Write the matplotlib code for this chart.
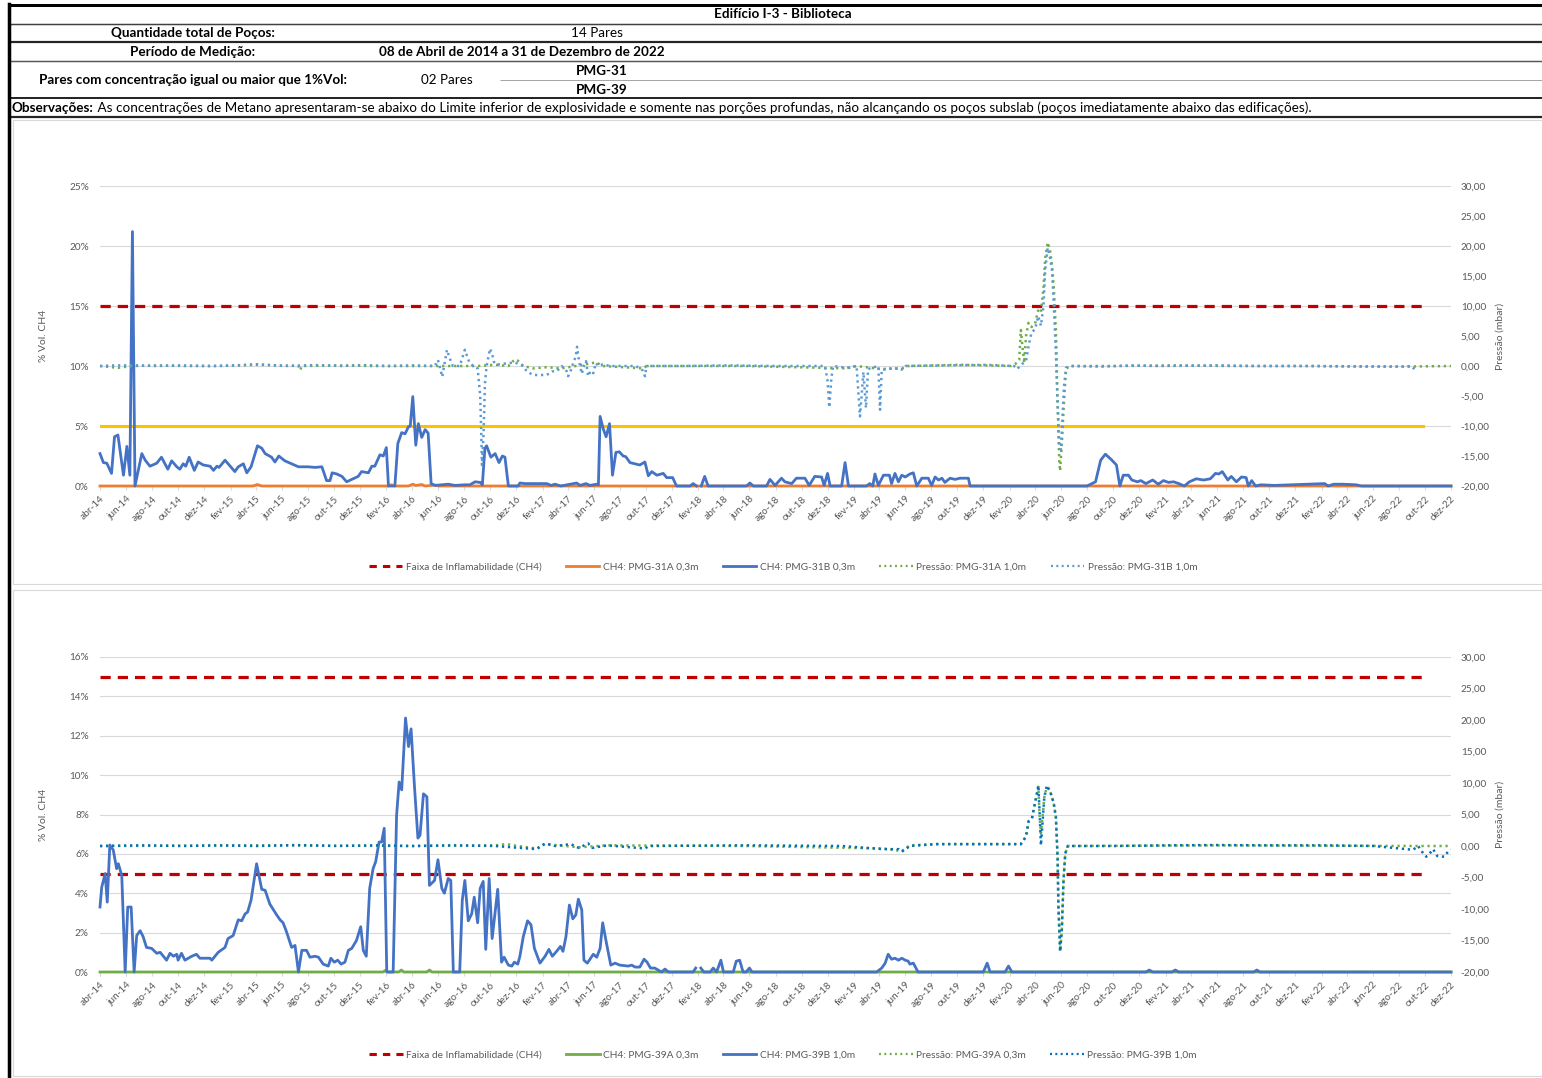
import numpy as np
import pandas as pd
import matplotlib
matplotlib.use('Agg')
import matplotlib.pyplot as plt
from matplotlib.lines import Line2D
from matplotlib.patches import Rectangle
from matplotlib.ticker import FuncFormatter

nan = float('nan')

# ---------------- header texts ----------------
titulo = 'Edifício I-3 - Biblioteca'
rotulo_qtd = 'Quantidade total de Poços:'
valor_qtd = '14 Pares'
rotulo_periodo = 'Período de Medição:'
valor_periodo = '08 de Abril de 2014 a 31 de Dezembro de 2022'
rotulo_pares = 'Pares com concentração igual ou maior que 1%Vol:'
valor_pares = '02 Pares'
pocos = ['PMG-31', 'PMG-39']
obs_rotulo = 'Observações:'
obs_texto = (' As concentrações de Metano apresentaram-se abaixo do Limite inferior de explosividade '
             'e somente nas porções profundas, não alcançando os poços subslab (poços imediatamente '
             'abaixo das edificações).')

meses = ['jan', 'fev', 'mar', 'abr', 'mai', 'jun', 'jul', 'ago', 'set', 'out', 'nov', 'dez']
inicio = '2014-04-08'
fim = '2022-12-08'

# ---------------- chart 1 : PMG-31 ----------------
leg_31 = ['Faixa de Inflamabilidade (CH4)', 'CH4: PMG-31A 0,3m', 'CH4: PMG-31B 0,3m',
          'Pressão: PMG-31A 1,0m', 'Pressão: PMG-31B 1,0m']
faixa_datas = ['2014-04-08', '2022-10-03']
faixa_31 = [15.0]
amarela_31 = [5.0]

ch4_31a = [('2014-04-08', 0.0), ('2015-04-01', 0.0), ('2015-04-12', 0.12), ('2015-04-22', 0.0),
           ('2016-02-13', 0.0), ('2016-02-20', 0.1), ('2016-02-28', 0.0), ('2016-03-31', 0.0),
           ('2016-04-10', 0.15), ('2016-04-17', 0.05), ('2016-05-01', 0.12), ('2016-05-09', 0.0),
           ('2016-06-01', 0.08), ('2016-06-10', 0.0), ('2022-12-08', 0.0)]

ch4_31b = [('2014-04-08', 2.7), ('2014-04-16', 1.95), ('2014-04-24', 1.9), ('2014-05-05', 1.05),
           ('2014-05-12', 4.1), ('2014-05-20', 4.25), ('2014-06-02', 0.9), ('2014-06-10', 3.3),
           ('2014-06-17', 0.9), ('2014-06-23', 21.2), ('2014-06-29', 0.0), ('2014-07-15', 2.7),
           ('2014-07-23', 2.15), ('2014-08-03', 1.65), ('2014-08-19', 1.9), ('2014-08-30', 2.4),
           ('2014-09-14', 1.4), ('2014-09-23', 2.1), ('2014-10-05', 1.6), ('2014-10-12', 1.4),
           ('2014-10-20', 1.85), ('2014-10-26', 1.65), ('2014-11-03', 2.4), ('2014-11-15', 1.3),
           ('2014-11-24', 2.0), ('2014-12-06', 1.75), ('2014-12-22', 1.65), ('2014-12-30', 1.3),
           ('2015-01-07', 1.65), ('2015-01-12', 1.55), ('2015-01-26', 2.15), ('2015-02-18', 1.2),
           ('2015-02-26', 1.6), ('2015-03-10', 1.85), ('2015-03-18', 1.1), ('2015-03-28', 1.6),
           ('2015-04-12', 3.35), ('2015-04-22', 3.15), ('2015-04-30', 2.7), ('2015-05-15', 2.4),
           ('2015-05-23', 2.0), ('2015-06-01', 2.5), ('2015-06-15', 2.1), ('2015-07-01', 1.85),
           ('2015-07-17', 1.6), ('2015-08-09', 1.6), ('2015-08-25', 1.55), ('2015-09-10', 1.6),
           ('2015-09-21', 0.45), ('2015-09-29', 0.45), ('2015-10-04', 1.1), ('2015-10-15', 1.0),
           ('2015-10-27', 0.8), ('2015-11-07', 0.35), ('2015-11-19', 0.55), ('2015-12-04', 0.8),
           ('2015-12-12', 1.2), ('2015-12-28', 1.1), ('2016-01-05', 1.65), ('2016-01-12', 1.65),
           ('2016-01-24', 2.6), ('2016-02-01', 2.5), ('2016-02-08', 3.2), ('2016-02-13', 0.0),
           ('2016-02-28', 0.0), ('2016-03-06', 3.55), ('2016-03-15', 4.45), ('2016-03-23', 4.35),
           ('2016-03-31', 4.95), ('2016-04-04', 5.0), ('2016-04-10', 7.45), ('2016-04-17', 3.4),
           ('2016-04-23', 5.2), ('2016-05-01', 4.05), ('2016-05-09', 4.7), ('2016-05-16', 4.4),
           ('2016-05-23', 0.2), ('2016-06-01', 0.05), ('2016-07-02', 0.15), ('2016-07-18', 0.05),
           ('2016-08-10', 0.1), ('2016-08-22', 0.1), ('2016-09-03', 0.35), ('2016-09-15', 0.3),
           ('2016-09-20', 0.1), ('2016-09-26', 3.15), ('2016-09-30', 3.35), ('2016-10-10', 2.4),
           ('2016-10-20', 2.7), ('2016-10-29', 1.95), ('2016-11-06', 2.5), ('2016-11-12', 2.4),
           ('2016-11-20', 0.0), ('2016-12-13', 0.0), ('2016-12-17', 0.25), ('2016-12-29', 0.2),
           ('2017-01-14', 0.2), ('2017-02-02', 0.2), ('2017-02-18', 0.2), ('2017-02-28', 0.05),
           ('2017-03-09', 0.15), ('2017-03-23', 0.0), ('2017-04-29', 0.25), ('2017-05-07', 0.05),
           ('2017-05-21', 0.2), ('2017-05-30', 0.05), ('2017-06-15', 0.15), ('2017-06-19', 0.1),
           ('2017-06-23', 5.8), ('2017-06-30', 4.8), ('2017-07-07', 4.1), ('2017-07-15', 5.2),
           ('2017-07-22', 0.9), ('2017-07-30', 2.8), ('2017-08-07', 2.85), ('2017-08-16', 2.5),
           ('2017-08-22', 2.45), ('2017-09-01', 1.95), ('2017-09-13', 1.85), ('2017-09-24', 1.75),
           ('2017-10-06', 2.0), ('2017-10-14', 0.85), ('2017-10-22', 1.2), ('2017-11-03', 0.9),
           ('2017-11-18', 1.05), ('2017-11-26', 0.7), ('2017-12-10', 0.7), ('2017-12-19', 0.0),
           ('2018-01-20', 0.0), ('2018-01-27', 0.2), ('2018-02-04', 0.0), ('2018-02-10', nan),
           ('2018-02-15', 0.0), ('2018-02-23', 0.8), ('2018-03-03', 0.0), ('2018-06-01', 0.0),
           ('2018-06-09', 0.25), ('2018-06-17', 0.0), ('2018-07-18', 0.0), ('2018-07-26', 0.55),
           ('2018-08-07', 0.05), ('2018-08-22', 0.65), ('2018-08-30', 0.35), ('2018-09-15', 0.2),
           ('2018-09-26', 0.65), ('2018-10-16', 0.65), ('2018-10-26', 0.05), ('2018-11-08', 0.8),
           ('2018-11-24', 0.75), ('2018-11-30', 0.05), ('2018-12-08', 1.05), ('2018-12-14', 0.0),
           ('2019-01-10', 0.0), ('2019-01-18', 1.95), ('2019-01-26', 0.0), ('2019-03-09', 0.0),
           ('2019-03-17', 0.2), ('2019-03-24', 0.0), ('2019-03-29', 1.0), ('2019-04-06', 0.05),
           ('2019-04-18', 0.9), ('2019-05-02', 0.9), ('2019-05-07', 0.2), ('2019-05-15', 1.05),
           ('2019-05-23', 0.35), ('2019-05-31', 0.9), ('2019-06-08', 0.75), ('2019-06-19', 1.0),
           ('2019-06-27', 1.1), ('2019-07-05', 0.0), ('2019-07-17', 0.65), ('2019-08-01', 0.65),
           ('2019-08-09', 0.05), ('2019-08-17', 0.75), ('2019-08-25', 0.5), ('2019-09-02', 0.65),
           ('2019-09-09', 0.3), ('2019-09-21', 0.65), ('2019-10-03', 0.55), ('2019-10-14', 0.65),
           ('2019-10-26', 0.65), ('2019-11-03', 0.65), ('2019-11-07', 0.0), ('2020-08-07', 0.0),
           ('2020-08-27', 0.35), ('2020-09-08', 2.15), ('2020-09-19', 2.65), ('2020-10-03', 2.2),
           ('2020-10-15', 1.75), ('2020-10-23', 0.0), ('2020-10-31', 0.9), ('2020-11-12', 0.9),
           ('2020-11-20', 0.5), ('2020-12-03', 0.35), ('2020-12-11', 0.45), ('2020-12-23', 0.2),
           ('2021-01-08', 0.5), ('2021-01-21', 0.15), ('2021-02-02', 0.45), ('2021-02-14', 0.3),
           ('2021-02-26', 0.35), ('2021-03-10', 0.2), ('2021-03-23', 0.0), ('2021-04-04', 0.35),
           ('2021-04-20', 0.6), ('2021-05-07', 0.5), ('2021-05-23', 0.6), ('2021-06-04', 1.05),
           ('2021-06-12', 1.0), ('2021-06-20', 1.2), ('2021-07-03', 0.5), ('2021-07-11', 0.8),
           ('2021-07-23', 0.35), ('2021-08-04', 0.75), ('2021-08-15', 0.7), ('2021-08-20', 0.0),
           ('2021-08-28', 0.45), ('2021-09-06', 0.0), ('2021-09-18', 0.1), ('2021-10-20', 0.05),
           ('2022-02-15', 0.2), ('2022-02-23', 0.0), ('2022-03-08', 0.15), ('2022-03-28', 0.15),
           ('2022-04-30', 0.1), ('2022-05-12', 0.0), ('2022-12-08', 0.0)]

press_31a = [('2014-04-08', 0.0), ('2014-05-20', -0.3), ('2014-06-23', 0.0), ('2014-08-19', 0.1),
             ('2014-10-20', 0.0), ('2015-01-12', 0.0), ('2015-04-12', 0.2), ('2015-07-17', 0.0),
             ('2015-07-21', -0.7), ('2015-07-25', 0.0), ('2015-10-15', 0.1), ('2016-01-12', 0.0),
             ('2016-04-10', 0.0), ('2016-07-13', 0.0), ('2016-09-09', 0.0), ('2016-10-20', 0.2),
             ('2016-11-20', 0.0), ('2016-12-05', 1.1), ('2016-12-12', 0.9), ('2016-12-25', 0.0),
             ('2017-01-17', -0.4), ('2017-02-18', -0.2), ('2017-03-25', -0.4), ('2017-04-27', 0.0),
             ('2017-06-13', 0.6), ('2017-06-30', 0.0), ('2017-10-02', -0.4), ('2017-10-10', 0.0),
             ('2018-06-01', 0.0), ('2019-01-22', -0.4), ('2019-02-14', 0.0), ('2019-04-10', -0.5),
             ('2019-05-31', -0.4), ('2019-06-15', 0.0), ('2019-10-15', 0.2), ('2020-02-10', 0.0),
             ('2020-02-22', 0.4), ('2020-03-01', 1.0), ('2020-03-05', 6.0), ('2020-03-09', 3.0),
             ('2020-03-13', 0.5), ('2020-03-17', 5.0), ('2020-03-23', 7.2), ('2020-03-30', 6.5),
             ('2020-04-07', 7.0), ('2020-04-15', 9.4), ('2020-04-21', 9.0), ('2020-04-27', 13.0),
             ('2020-05-01', 18.0), ('2020-05-07', 20.6), ('2020-05-13', 19.0), ('2020-05-17', 16.7),
             ('2020-05-21', 13.3), ('2020-05-26', 6.0), ('2020-05-30', -6.0), ('2020-06-03', -16.0),
             ('2020-06-05', -17.5), ('2020-06-10', -11.7), ('2020-06-14', -6.0), ('2020-06-19', -0.5),
             ('2020-06-27', 0.0), ('2020-10-10', 0.0), ('2021-03-10', 0.1), ('2021-07-10', 0.0),
             ('2022-01-10', 0.0), ('2022-08-20', -0.1), ('2022-12-08', 0.0)]

press_31b = [('2014-04-08', 0.0), ('2014-05-12', 0.1), ('2014-06-23', 0.1), ('2014-08-19', 0.0),
             ('2014-10-12', 0.1), ('2014-12-22', 0.0), ('2015-02-18', 0.1), ('2015-04-12', 0.3),
             ('2015-06-15', 0.0), ('2015-08-25', 0.15), ('2015-10-27', 0.0), ('2015-12-12', 0.15),
             ('2016-02-13', 0.0), ('2016-04-10', 0.1), ('2016-06-01', 0.0), ('2016-06-08', 1.0),
             ('2016-06-18', -1.8), ('2016-06-29', 2.7), ('2016-07-06', 1.2), ('2016-07-13', 0.0),
             ('2016-07-29', 0.0), ('2016-08-10', 2.7), ('2016-08-20', 0.7), ('2016-08-29', 0.0),
             ('2016-09-09', -0.4), ('2016-09-15', -5.0), ('2016-09-17', -10.0), ('2016-09-19', -16.5),
             ('2016-09-23', -11.0), ('2016-09-26', -3.0), ('2016-09-30', 0.0), ('2016-10-08', 2.9),
             ('2016-10-13', 2.0), ('2016-10-17', 0.7), ('2016-10-24', 0.2), ('2016-10-31', 0.3),
             ('2016-12-05', 0.6), ('2016-12-25', 0.0), ('2017-01-02', -0.9), ('2017-01-17', -1.5),
             ('2017-02-18', -1.5), ('2017-03-02', -0.9), ('2017-03-13', -0.9), ('2017-03-25', 0.0),
             ('2017-04-06', -0.9), ('2017-04-09', -1.7), ('2017-04-15', -0.8), ('2017-04-21', 0.5),
             ('2017-04-27', 1.6), ('2017-04-30', 3.2), ('2017-05-03', 1.6), ('2017-05-07', 0.0),
             ('2017-05-11', -1.3), ('2017-05-16', 0.0), ('2017-05-21', 0.8), ('2017-05-26', -1.7),
             ('2017-06-01', -0.8), ('2017-06-07', -1.2), ('2017-06-13', 0.5), ('2017-06-19', 0.0),
             ('2017-06-30', 0.3), ('2017-07-16', 0.0), ('2017-09-15', 0.0), ('2017-10-02', -0.8),
             ('2017-10-06', -1.7), ('2017-10-10', 0.0), ('2018-01-10', 0.0), ('2018-04-15', 0.1),
             ('2018-08-10', 0.0), ('2018-12-02', 0.0), ('2018-12-08', -2.5), ('2018-12-12', -6.9),
             ('2018-12-17', -2.0), ('2018-12-21', 0.0), ('2019-01-22', -0.3), ('2019-02-14', 0.0),
             ('2019-02-22', -8.4), ('2019-03-02', -1.0), ('2019-03-08', -7.0), ('2019-03-13', -0.5),
             ('2019-04-06', 0.0), ('2019-04-10', -7.3), ('2019-04-14', -0.6), ('2019-04-25', -0.6),
             ('2019-05-10', -0.3), ('2019-05-31', -0.6), ('2019-06-08', 0.0), ('2019-09-15', 0.1),
             ('2019-12-15', 0.2), ('2020-02-18', 0.0), ('2020-02-26', -0.5), ('2020-03-05', 0.2),
             ('2020-03-17', 0.8), ('2020-03-23', 3.3), ('2020-03-30', 5.6), ('2020-04-07', 6.1),
             ('2020-04-15', 8.3), ('2020-04-21', 6.7), ('2020-04-27', 10.0), ('2020-05-01', 16.0),
             ('2020-05-07', 19.7), ('2020-05-13', 17.8), ('2020-05-17', 16.0), ('2020-05-21', 10.5),
             ('2020-05-26', 2.2), ('2020-05-30', -6.0), ('2020-06-03', -12.8), ('2020-06-07', -14.0),
             ('2020-06-10', -9.5), ('2020-06-14', -3.4), ('2020-06-19', -0.3), ('2020-06-27', 0.0),
             ('2020-09-10', -0.1), ('2020-11-20', 0.1), ('2021-01-15', 0.0), ('2021-04-20', 0.05),
             ('2021-06-12', 0.1), ('2021-09-10', 0.0), ('2022-01-10', 0.0), ('2022-05-10', -0.1),
             ('2022-08-20', -0.1), ('2022-09-05', 0.0), ('2022-09-15', -0.6)]

# ---------------- chart 2 : PMG-39 ----------------
leg_39 = ['Faixa de Inflamabilidade (CH4)', 'CH4: PMG-39A 0,3m', 'CH4: PMG-39B 1,0m',
          'Pressão: PMG-39A 0,3m', 'Pressão: PMG-39B 1,0m']
faixa_39 = [15.0, 5.0]

ch4_39a = [('2014-04-08', 0.0), ('2016-01-31', 0.0), ('2016-02-06', 0.08), ('2016-02-12', 0.0),
           ('2016-03-08', 0.0), ('2016-03-14', 0.1), ('2016-03-20', 0.0), ('2016-05-13', 0.0),
           ('2016-05-19', 0.1), ('2016-05-25', 0.0), ('2022-12-08', 0.0)]

ch4_39b = [('2014-04-08', 3.3), ('2014-04-12', 4.3), ('2014-04-20', 5.0), ('2014-04-25', 3.55),
           ('2014-05-01', 6.45), ('2014-05-09', 6.2), ('2014-05-17', 5.25), ('2014-05-21', 5.5),
           ('2014-05-29', 4.9), ('2014-06-06', 0.0), ('2014-06-12', 3.3), ('2014-06-20', 3.3),
           ('2014-06-27', 0.0), ('2014-07-03', 1.85), ('2014-07-11', 2.1), ('2014-07-18', 1.8),
           ('2014-07-26', 1.25), ('2014-08-07', 1.2), ('2014-08-19', 0.95), ('2014-08-27', 1.0),
           ('2014-09-11', 0.6), ('2014-09-19', 0.95), ('2014-09-27', 0.8), ('2014-10-05', 0.9),
           ('2014-10-08', 0.6), ('2014-10-16', 0.95), ('2014-10-24', 0.6), ('2014-11-09', 0.8),
           ('2014-11-20', 0.9), ('2014-11-28', 0.7), ('2014-12-22', 0.7), ('2014-12-26', 0.6),
           ('2015-01-10', 1.0), ('2015-01-26', 1.25), ('2015-02-02', 1.7), ('2015-02-14', 1.85),
           ('2015-02-26', 2.65), ('2015-03-06', 2.6), ('2015-03-14', 2.95), ('2015-03-20', 3.05),
           ('2015-03-28', 3.65), ('2015-04-10', 5.5), ('2015-04-22', 4.2), ('2015-04-30', 4.15),
           ('2015-05-11', 3.45), ('2015-05-27', 2.9), ('2015-06-04', 2.65), ('2015-06-11', 2.5),
           ('2015-06-19', 2.05), ('2015-07-01', 1.25), ('2015-07-09', 1.35), ('2015-07-17', 0.0),
           ('2015-07-25', 1.1), ('2015-08-05', 1.1), ('2015-08-13', 0.75), ('2015-08-25', 0.8),
           ('2015-09-02', 0.75), ('2015-09-13', 0.4), ('2015-09-25', 0.3), ('2015-10-01', 0.7),
           ('2015-10-09', 0.5), ('2015-10-17', 0.6), ('2015-10-25', 0.4), ('2015-11-03', 0.5),
           ('2015-11-11', 1.1), ('2015-11-19', 1.2), ('2015-11-30', 1.6), ('2015-12-10', 2.3),
           ('2015-12-16', 1.1), ('2015-12-23', 0.8), ('2015-12-31', 4.25), ('2016-01-08', 5.25),
           ('2016-01-14', 5.6), ('2016-01-22', 6.6), ('2016-01-28', 6.6), ('2016-02-03', 7.3),
           ('2016-02-09', 0.0), ('2016-02-24', 0.0), ('2016-03-03', 7.95), ('2016-03-09', 9.65),
           ('2016-03-15', 9.25), ('2016-03-24', 12.9), ('2016-03-31', 11.45), ('2016-04-06', 12.35),
           ('2016-04-14', 9.4), ('2016-04-22', 6.8), ('2016-04-27', 6.95), ('2016-05-05', 9.05),
           ('2016-05-13', 8.9), ('2016-05-19', 4.4), ('2016-05-31', 4.65), ('2016-06-08', 5.7),
           ('2016-06-17', 4.25), ('2016-06-23', 4.0), ('2016-07-02', 4.75), ('2016-07-08', 4.65),
           ('2016-07-14', 0.0), ('2016-07-29', 0.0), ('2016-08-04', 3.65), ('2016-08-10', 4.65),
           ('2016-08-18', 2.6), ('2016-08-26', 2.95), ('2016-09-01', 3.8), ('2016-09-09', 2.5),
           ('2016-09-15', 4.25), ('2016-09-22', 4.6), ('2016-09-28', 1.15), ('2016-10-06', 4.75),
           ('2016-10-13', 1.7), ('2016-10-26', 4.2), ('2016-11-04', 0.5), ('2016-11-10', 0.75),
           ('2016-11-20', 0.35), ('2016-11-28', 0.3), ('2016-12-04', 0.5), ('2016-12-12', 0.4),
           ('2016-12-17', 0.8), ('2016-12-25', 1.8), ('2017-01-04', 2.6), ('2017-01-12', 2.4),
           ('2017-01-20', 1.2), ('2017-02-02', 0.45), ('2017-02-14', 0.8), ('2017-02-23', 1.15),
           ('2017-03-03', 0.8), ('2017-03-13', 1.05), ('2017-03-22', 1.3), ('2017-03-28', 1.05),
           ('2017-04-04', 1.8), ('2017-04-12', 3.4), ('2017-04-20', 2.7), ('2017-04-27', 2.9),
           ('2017-05-03', 3.7), ('2017-05-11', 3.15), ('2017-05-16', 0.6), ('2017-05-24', 0.45),
           ('2017-06-07', 0.9), ('2017-06-15', 0.75), ('2017-06-23', 1.2), ('2017-06-29', 2.5),
           ('2017-07-08', 1.45), ('2017-07-18', 0.35), ('2017-07-28', 0.45), ('2017-08-08', 0.35),
           ('2017-08-28', 0.3), ('2017-09-05', 0.35), ('2017-09-13', 0.25), ('2017-09-24', 0.25),
           ('2017-10-04', 0.65), ('2017-10-11', 0.5), ('2017-10-19', 0.2), ('2017-10-29', 0.2),
           ('2017-11-14', 0.0), ('2017-11-22', 0.15), ('2017-11-30', 0.0), ('2018-01-27', 0.0),
           ('2018-02-02', 0.2), ('2018-02-08', nan), ('2018-02-14', 0.2), ('2018-02-21', 0.0),
           ('2018-03-08', 0.0), ('2018-03-15', 0.2), ('2018-03-23', 0.0), ('2018-04-02', 0.6),
           ('2018-04-08', 0.0), ('2018-05-01', 0.0), ('2018-05-08', 0.55), ('2018-05-16', 0.6),
           ('2018-05-24', 0.0), ('2018-05-31', 0.0), ('2018-06-08', 0.2), ('2018-06-14', 0.0),
           ('2019-04-02', 0.0), ('2019-04-14', 0.2), ('2019-04-22', 0.45), ('2019-04-29', 0.9),
           ('2019-05-07', 0.65), ('2019-05-15', 0.7), ('2019-05-23', 0.6), ('2019-05-31', 0.7),
           ('2019-06-08', 0.6), ('2019-06-15', 0.55), ('2019-06-19', 0.4), ('2019-06-27', 0.45),
           ('2019-07-08', 0.0), ('2019-12-08', 0.0), ('2019-12-17', 0.45), ('2019-12-24', 0.0),
           ('2020-01-28', 0.0), ('2020-02-05', 0.3), ('2020-02-13', 0.0), ('2020-12-23', 0.0),
           ('2020-12-31', 0.1), ('2021-01-08', 0.0), ('2021-02-22', 0.0), ('2021-03-02', 0.1),
           ('2021-03-10', 0.0), ('2021-09-02', 0.0), ('2021-09-09', 0.1), ('2021-09-16', 0.0),
           ('2022-12-08', 0.0)]

press_39a = [('2014-04-08', 0.0), ('2015-04-12', 0.1), ('2016-04-10', 0.0), ('2016-10-20', 0.1),
             ('2016-11-15', 0.3), ('2016-12-12', 0.0), ('2017-01-25', -0.4), ('2017-02-14', 0.3),
             ('2017-05-04', -0.2), ('2017-07-10', 0.1), ('2018-06-01', 0.0), ('2019-04-18', -0.4),
             ('2019-05-31', -0.8), ('2019-06-19', 0.1), ('2019-08-20', 0.3), ('2020-03-05', 0.3),
             ('2020-03-17', 1.5), ('2020-03-23', 3.9), ('2020-03-31', 4.4), ('2020-04-07', 6.8),
             ('2020-04-11', 8.1), ('2020-04-15', 9.4), ('2020-04-18', 4.6), ('2020-04-21', 2.0),
             ('2020-04-24', 4.0), ('2020-04-29', 7.8), ('2020-05-05', 9.4), ('2020-05-13', 8.6),
             ('2020-05-21', 6.8), ('2020-05-26', 4.6), ('2020-05-30', -1.7), ('2020-06-01', -9.6),
             ('2020-06-05', -16.6), ('2020-06-09', -13.3), ('2020-06-13', -5.4), ('2020-06-17', -1.2),
             ('2020-06-23', 0.0), ('2021-06-01', 0.1), ('2022-09-22', 0.0), ('2022-12-08', 0.0)]

press_39b = [('2014-04-08', 0.0), ('2014-07-15', 0.1), ('2014-10-20', 0.0), ('2015-01-12', 0.1),
             ('2015-04-12', 0.0), ('2015-07-10', 0.15), ('2015-10-15', 0.0), ('2016-01-12', 0.1),
             ('2016-04-10', 0.0), ('2016-07-13', 0.1), ('2016-10-20', 0.0), ('2017-01-25', -0.5),
             ('2017-02-14', 0.4), ('2017-03-10', 0.0), ('2017-04-15', 0.3), ('2017-05-04', -0.3),
             ('2017-05-26', 0.4), ('2017-06-05', -0.3), ('2017-07-10', 0.1), ('2017-10-06', -0.4),
             ('2017-10-15', 0.0), ('2018-06-01', 0.1), ('2019-01-10', 0.0), ('2019-04-18', -0.5),
             ('2019-05-24', -0.5), ('2019-05-31', -0.9), ('2019-06-19', 0.0), ('2019-08-20', 0.3),
             ('2019-12-15', 0.3), ('2020-03-05', 0.3), ('2020-03-17', 1.5), ('2020-03-23', 3.9),
             ('2020-03-31', 4.4), ('2020-04-07', 6.8), ('2020-04-11', 8.1), ('2020-04-15', 9.6),
             ('2020-04-18', 5.2), ('2020-04-21', 0.1), ('2020-04-24', 2.9), ('2020-04-29', 7.8),
             ('2020-05-05', 9.6), ('2020-05-13', 8.6), ('2020-05-21', 6.8), ('2020-05-26', 4.6),
             ('2020-05-30', -1.7), ('2020-06-01', -9.6), ('2020-06-05', -16.8), ('2020-06-09', -13.3),
             ('2020-06-13', -5.4), ('2020-06-17', -1.2), ('2020-06-23', 0.0), ('2020-10-15', 0.0),
             ('2021-02-10', 0.1), ('2021-06-01', 0.15), ('2021-10-01', 0.1), ('2022-02-10', 0.1),
             ('2022-06-10', 0.0), ('2022-09-10', -0.6), ('2022-09-22', 0.0), ('2022-10-01', -0.9),
             ('2022-10-11', -1.7), ('2022-10-19', -1.2), ('2022-10-27', -0.5), ('2022-11-06', -1.6),
             ('2022-11-22', -1.7), ('2022-12-01', -0.9), ('2022-12-08', -0.6)]

# ---------------- styles ----------------
W, H = 1542, 1078
plt.rcParams['font.family'] = ['Lato', 'DejaVu Sans']
C_RED, C_ORANGE, C_BLUE, C_GREEN = '#C00000', '#ED7D31', '#4472C4', '#70AD47'
C_BLUE_DOT1, C_BLUE_DOT2, C_YELLOW = '#5B9BD5', '#0070C0', '#FFC000'
C_TXT, C_GRID = '#595959', '#D9D9D9'
DASH = (0, (3.2, 2.2))
DOT = (0, (0.9, 1.5))


def fx(px):
    return px / W


def fy(py):
    return 1 - py / H


def series(pairs):
    d = pd.to_datetime([p[0] for p in pairs]).values
    v = np.array([p[1] for p in pairs], dtype=float)
    return d, v


fig = plt.figure(figsize=(W / 100, H / 100), dpi=100)
fig.patch.set_facecolor('white')

# ---------------- header ----------------
hs = 9.7
fig.text(fx(783), fy(14), titulo, ha='center', va='center', fontsize=hs, fontweight='bold')
fig.text(fx(193), fy(33), rotulo_qtd, ha='center', va='center', fontsize=hs, fontweight='bold')
fig.text(fx(597), fy(33), valor_qtd, ha='center', va='center', fontsize=hs)
fig.text(fx(193), fy(51.5), rotulo_periodo, ha='center', va='center', fontsize=hs, fontweight='bold')
fig.text(fx(522), fy(51.5), valor_periodo, ha='center', va='center', fontsize=hs, fontweight='bold')
fig.text(fx(193), fy(80), rotulo_pares, ha='center', va='center', fontsize=hs, fontweight='bold')
fig.text(fx(447), fy(80), valor_pares, ha='center', va='center', fontsize=hs)
fig.text(fx(602), fy(71), pocos[0], ha='center', va='center', fontsize=hs, fontweight='bold')
fig.text(fx(602), fy(90), pocos[1], ha='center', va='center', fontsize=hs, fontweight='bold')

t_obs1 = fig.text(fx(12), fy(107.5), obs_rotulo, ha='left', va='center', fontsize=hs, fontweight='bold')
fig.canvas.draw()
rend = fig.canvas.get_renderer()
b1 = t_obs1.get_window_extent(rend)
t_obs2 = fig.text(b1.x1 / W, fy(107.5), obs_texto, ha='left', va='center', fontsize=hs)
fig.canvas.draw()
b2 = t_obs2.get_window_extent(rend)
scale = (1312 - 12) / (b2.x1 - b1.x0)
t_obs1.set_fontsize(hs * scale)
t_obs2.set_fontsize(hs * scale)
fig.canvas.draw()
b1 = t_obs1.get_window_extent(rend)
t_obs2.set_x(b1.x1 / W)


def hline(y, x0, x1, color, lwpx):
    fig.add_artist(Line2D([fx(x0), fx(x1)], [fy(y), fy(y)], transform=fig.transFigure,
                          color=color, lw=lwpx / 1.389, solid_capstyle='butt'))


hline(5, 8, W, 'black', 3)
hline(23.5, 8, W, '#404040', 1.5)
hline(42, 8, W, '#262626', 2.2)
hline(61, 8, W, '#595959', 1.5)
hline(79.5, 500, W, '#A6A6A6', 1)
hline(98, 8, W, '#262626', 2)
hline(117, 8, W, '#262626', 2.2)
fig.add_artist(Line2D([fx(9), fx(9)], [fy(4), fy(H)], transform=fig.transFigure,
                      color='black', lw=3.5 / 1.389))
for (y0, y1) in [(120, 584), (590, 1076)]:
    fig.add_artist(Rectangle((fx(13), fy(y1)), fx(W + 5) - fx(13), fy(y0) - fy(y1),
                             transform=fig.transFigure, fill=False, edgecolor=C_GRID, lw=0.8))

# ---------------- axes helpers ----------------
ticks = pd.date_range(inicio, fim, freq=pd.DateOffset(months=2))
tick_labels = [f'{meses[t.month - 1]}-{t.year % 100:02d}' for t in ticks]
x0 = np.datetime64(inicio)
x1 = np.datetime64(fim)


def make_axes(top_px, bot_px, ylim, ystep):
    ax = fig.add_axes([fx(100), fy(bot_px), fx(1451) - fx(100), fy(top_px) - fy(bot_px)])
    ax.set_xlim(x0, x1)
    ax.set_ylim(*ylim)
    ax.set_yticks(np.arange(ylim[0], ylim[1] + 0.001, ystep))
    ax.yaxis.set_major_formatter(FuncFormatter(lambda v, p: f'{v:.0f}%'))
    ax.grid(axis='y', color=C_GRID, lw=0.8)
    ax.set_axisbelow(True)
    for s in ['top', 'right', 'left']:
        ax.spines[s].set_visible(False)
    ax.spines['bottom'].set_color(C_GRID)
    ax.tick_params(axis='y', length=0, labelsize=7.2, labelcolor=C_TXT, pad=8)
    ax.set_xticks(ticks.values)
    ax.set_xticklabels(tick_labels, rotation=45, ha='right', rotation_mode='anchor')
    ax.tick_params(axis='x', length=3, color=C_GRID, labelsize=7.2, labelcolor=C_TXT, pad=3)
    ax.set_facecolor('none')
    ax2 = ax.twinx()
    ax2.set_ylim(-20, 30)
    ax2.set_yticks(np.arange(-20, 31, 5))
    ax2.yaxis.set_major_formatter(FuncFormatter(lambda v, p: f'{v:.2f}'.replace('.', ',')))
    for s in ax2.spines.values():
        s.set_visible(False)
    ax2.tick_params(axis='y', length=0, labelsize=7.2, labelcolor=C_TXT, pad=7)
    fig.text(fx(44), fy((top_px + bot_px) / 2), '% Vol. CH4', rotation=90, ha='center',
             va='center', fontsize=7.5, color=C_TXT)
    fig.text(fx(1500), fy((top_px + bot_px) / 2), 'Pressão (mbar)', rotation=90, ha='center',
             va='center', fontsize=7.5, color=C_TXT)
    return ax, ax2


fd = pd.to_datetime(faixa_datas).values


def legend(labels, y, c_ch4a, dot2):
    handles = [Line2D([], [], color=C_RED, lw=2.2, ls=(0, (2.4, 2.0))),
               Line2D([], [], color=c_ch4a, lw=2.0),
               Line2D([], [], color=C_BLUE, lw=2.0),
               Line2D([], [], color=C_GREEN, lw=1.6, ls=DOT),
               Line2D([], [], color=dot2, lw=1.6, ls=DOT)]
    fig.legend(handles, labels, loc='center', bbox_to_anchor=(fx(783), fy(y)), ncol=5,
               frameon=False, fontsize=7.3, labelcolor=C_TXT, handlelength=3.3,
               handletextpad=0.35, columnspacing=2.4)


# ---------------- chart 1 ----------------
ax, ax2 = make_axes(186, 486, (0, 25), 5)
ax.plot(fd, [faixa_31[0]] * 2, color=C_RED, lw=2.3, ls=DASH, zorder=3)
ax.plot(fd, [amarela_31[0]] * 2, color=C_YELLOW, lw=2.2, zorder=3)
d, v = series(ch4_31a)
ax.plot(d, v, color=C_ORANGE, lw=2.0, zorder=4, clip_on=False)
d, v = series(ch4_31b)
ax.plot(d, v, color=C_BLUE, lw=2.0, zorder=5, clip_on=False)
d, v = series(press_31a)
ax2.plot(d, v, color=C_GREEN, lw=1.8, ls=DOT)
d, v = series(press_31b)
ax2.plot(d, v, color=C_BLUE_DOT1, lw=1.8, ls=DOT)
legend(leg_31, 567, C_ORANGE, C_BLUE_DOT1)

# ---------------- chart 2 ----------------
ax, ax2 = make_axes(657, 972, (0, 16), 2)
for f in faixa_39:
    ax.plot(fd, [f, f], color=C_RED, lw=2.3, ls=DASH, zorder=3)
d, v = series(ch4_39a)
ax.plot(d, v, color=C_GREEN, lw=2.0, zorder=4, clip_on=False)
d, v = series(ch4_39b)
ax.plot(d, v, color=C_BLUE, lw=2.0, zorder=5, clip_on=False)
d, v = series(press_39a)
ax2.plot(d, v, color=C_GREEN, lw=1.8, ls=DOT)
d, v = series(press_39b)
ax2.plot(d, v, color=C_BLUE_DOT2, lw=1.8, ls=DOT)
legend(leg_39, 1055, C_GREEN, C_BLUE_DOT2)

fig.savefig('out.png', dpi=100, facecolor='white')
